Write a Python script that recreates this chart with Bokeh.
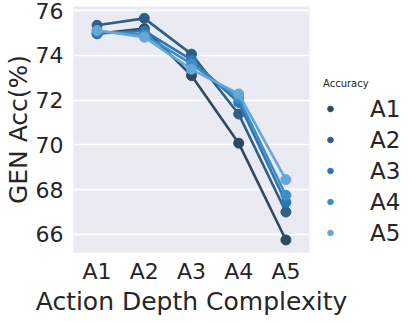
from bokeh.plotting import figure
from bokeh.models import FactorRange, Range1d, Legend, LegendItem, ColumnDataSource, FixedTicker
from bokeh.embed import file_html
from bokeh.resources import INLINE

categories = ["A1", "A2", "A3", "A4", "A5"]
series_names = ["A1", "A2", "A3", "A4", "A5"]
acc_A1 = [74.97, 75.20, 73.10, 70.08, 65.75]
acc_A2 = [75.35, 75.66, 74.06, 71.38, 67.00]
acc_A3 = [74.98, 75.10, 73.80, 71.90, 67.43]
acc_A4 = [75.08, 74.92, 73.62, 72.10, 67.75]
acc_A5 = [75.12, 74.82, 73.38, 72.28, 68.45]
colors = ["#2e4a62", "#2f5f86", "#2d77b0", "#3f8dc7", "#63a8d9"]
y_ticks = [66, 68, 70, 72, 74, 76]

series = [acc_A1, acc_A2, acc_A3, acc_A4, acc_A5]

p = figure(frame_width=236, frame_height=246, output_backend="svg", toolbar_location=None,
           x_range=FactorRange(*categories, range_padding=0), y_range=Range1d(65.19, 76.19),
           min_border_left=0, min_border_right=0, min_border_top=6, min_border_bottom=0)
p.background_fill_color = "#eaeaf2"
p.border_fill_color = "white"
p.outline_line_color = None
p.xgrid.grid_line_color = None
p.ygrid.grid_line_color = "white"
p.ygrid.grid_line_width = 1.3
p.yaxis.ticker = FixedTicker(ticks=y_ticks)

for ax in (p.xaxis, p.yaxis):
    ax.axis_line_color = None
    ax.major_tick_line_color = None
    ax.minor_tick_line_color = None
    ax.major_tick_out = 0
    ax.major_tick_in = 0
    ax.minor_tick_out = 0
    ax.major_label_text_font = "DejaVu Sans"
    ax.major_label_text_font_size = "22px"
    ax.major_label_text_color = "#262626"
    ax.axis_label_text_font = "DejaVu Sans"
    ax.axis_label_text_font_size = "25px"
    ax.axis_label_text_font_style = "normal"
    ax.axis_label_text_color = "#262626"
p.xaxis.axis_label = "Action Depth Complexity"
p.yaxis.axis_label = "GEN Acc(%)"
p.xaxis.major_label_standoff = 6
p.yaxis.major_label_standoff = 10
p.xaxis.axis_label_standoff = 0
p.yaxis.axis_label_standoff = 0

items = []
for name, vals, c in zip(series_names, series, colors):
    src = ColumnDataSource(dict(x=categories, y=vals))
    key = p.scatter("x", "y", source=src, size=7, fill_color=c, line_color=c)
    p.line("x", "y", source=src, line_color=c, line_width=2.6)
    p.scatter("x", "y", source=src, size=10, fill_color=c, line_color=c)
    items.append(LegendItem(label=name, renderers=[key]))

legend = Legend(items=items, location=(14, 6), title="Accuracy",
                title_text_font_size="10px", title_text_font="DejaVu Sans", title_text_color="#262626",
                title_text_font_style="normal", title_standoff=6,
                label_text_font="DejaVu Sans", label_text_font_size="23px", label_text_color="#262626",
                glyph_width=14, glyph_height=27, label_height=27, label_standoff=33, spacing=4,
                padding=0, margin=0, background_fill_alpha=0, border_line_alpha=0)
p.add_layout(legend, "right")

open("out.html", "w").write(file_html(p, INLINE))
